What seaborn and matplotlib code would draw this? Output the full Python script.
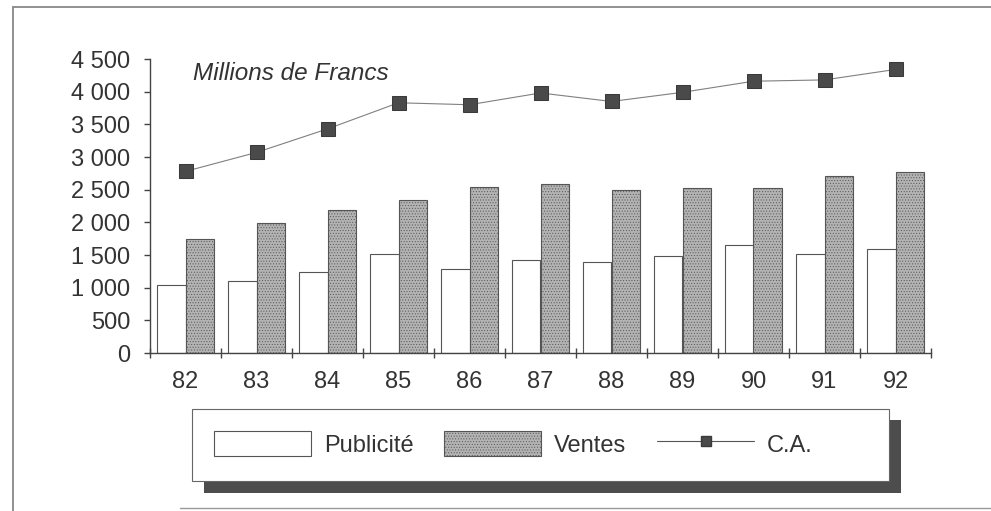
import numpy as np
import pandas as pd
import matplotlib.pyplot as plt
from matplotlib.patches import Patch, Rectangle
from matplotlib.lines import Line2D
import seaborn as sns

# data (millions de francs)
years = ["82", "83", "84", "85", "86", "87", "88", "89", "90", "91", "92"]
publicite = [1040, 1100, 1240, 1510, 1280, 1420, 1390, 1480, 1650, 1510, 1590]
ventes = [1740, 1990, 2190, 2340, 2540, 2580, 2500, 2530, 2530, 2710, 2770]
ca = [2780, 3070, 3430, 3830, 3800, 3980, 3850, 3990, 4160, 4180, 4340]
ytick_values = [0, 500, 1000, 1500, 2000, 2500, 3000, 3500, 4000, 4500]
ytick_labels = ["0", "500", "1 000", "1 500", "2 000", "2 500", "3 000", "3 500", "4 000", "4 500"]

sns.set_theme(style="white")
plt.rcParams["font.family"] = ["Liberation Sans", "DejaVu Sans"]
plt.rcParams["hatch.color"] = "#8c8c8c"
plt.rcParams["hatch.linewidth"] = 0.4
text_col = "#333333"
axis_col = "#444444"
ventes_col = "#b3b3b3"
fs = 17

df = pd.DataFrame({
    "annee": years * 2,
    "valeur": publicite + ventes,
    "serie": ["Publicité"] * len(years) + ["Ventes"] * len(years),
})

fig = plt.figure(figsize=(9.91, 5.11), dpi=100)
ax = fig.add_axes([150 / 991, 1 - 353 / 511, 781 / 991, 294 / 511])

sns.barplot(data=df, x="annee", y="valeur", hue="serie", order=years,
            palette={"Publicité": "white", "Ventes": ventes_col},
            edgecolor="#555555", linewidth=0.8, width=0.8, legend=False, ax=ax)
for bar in ax.patches:
    if bar.get_facecolor()[0] < 0.9:
        bar.set_hatch("......")
        bar.set_edgecolor("#555555")

sns.lineplot(x=np.arange(len(years)), y=ca, color="#808080", linewidth=0.8,
             marker="s", markersize=10, markerfacecolor="#4a4a4a",
             markeredgecolor="#3a3a3a", ax=ax)

ax.set_xlim(-0.5, len(years) - 0.5)
ax.set_ylim(0, 4500)
ax.set_xlabel("")
ax.set_ylabel("")
sns.despine(ax=ax)
for side in ["left", "bottom"]:
    ax.spines[side].set_color(axis_col)
    ax.spines[side].set_linewidth(1.0)

ax.set_xticks(range(len(years)))
ax.set_xticklabels(years)
ax.set_xticks(np.arange(-0.5, len(years)), minor=True)
ax.tick_params(axis="x", which="major", length=0, pad=13, labelsize=fs, labelcolor=text_col)
ax.tick_params(axis="x", which="minor", bottom=True, direction="inout", length=7,
               width=1.0, color=axis_col)
ax.set_yticks(ytick_values)
ax.set_yticklabels(ytick_labels)
ax.tick_params(axis="y", left=True, direction="out", length=4, width=1.0,
               color=axis_col, pad=10, labelsize=fs, labelcolor=text_col)

ax.text(0.055, 0.952, "Millions de Francs", transform=ax.transAxes, style="italic",
        fontsize=17.5, color=text_col, va="center", ha="left")

# legend box with its drop shadow, in pixel units of the figure
def px_rect(x0, y0, x1, y1, **kw):
    return Rectangle((x0 / 991, 1 - y1 / 511), (x1 - x0) / 991, (y1 - y0) / 511,
                     transform=fig.transFigure, **kw)

fig.patches.append(px_rect(204, 420, 901, 493, facecolor="#4d4d4d", edgecolor="none", zorder=1))
fig.patches.append(px_rect(192, 409, 889, 481, facecolor="white", edgecolor="#666666",
                           linewidth=0.8, zorder=2))

# outer frame of the scanned page
fig.add_artist(Line2D([13 / 991, 13 / 991], [0, 1 - 7 / 511], transform=fig.transFigure,
                      color="#888888", linewidth=1.3))
fig.add_artist(Line2D([13 / 991, 1], [1 - 7 / 511, 1 - 7 / 511], transform=fig.transFigure,
                      color="#888888", linewidth=1.3))
fig.add_artist(Line2D([180 / 991, 1], [1 - 508 / 511, 1 - 508 / 511], transform=fig.transFigure,
                      color="#999999", linewidth=1.0))

handles = [
    Patch(facecolor="white", edgecolor="#555555", linewidth=0.8, label="Publicité"),
    Patch(facecolor=ventes_col, edgecolor="#555555", linewidth=0.8, hatch="......", label="Ventes"),
    Line2D([], [], color="#555555", linewidth=0.8, marker="s", markersize=7,
           markerfacecolor="#4a4a4a", markeredgecolor="#3a3a3a", label="C.A."),
]
leg = fig.legend(handles=handles, loc="center left", ncol=3, frameon=False,
                 bbox_to_anchor=(193 / 991, 1 - 444 / 511), fontsize=fs,
                 handlelength=4.1, handleheight=1.2, handletextpad=0.55,
                 columnspacing=1.3, labelcolor=text_col)
leg.set_zorder(3)

fig.savefig("out.png", dpi=100, facecolor="white")
